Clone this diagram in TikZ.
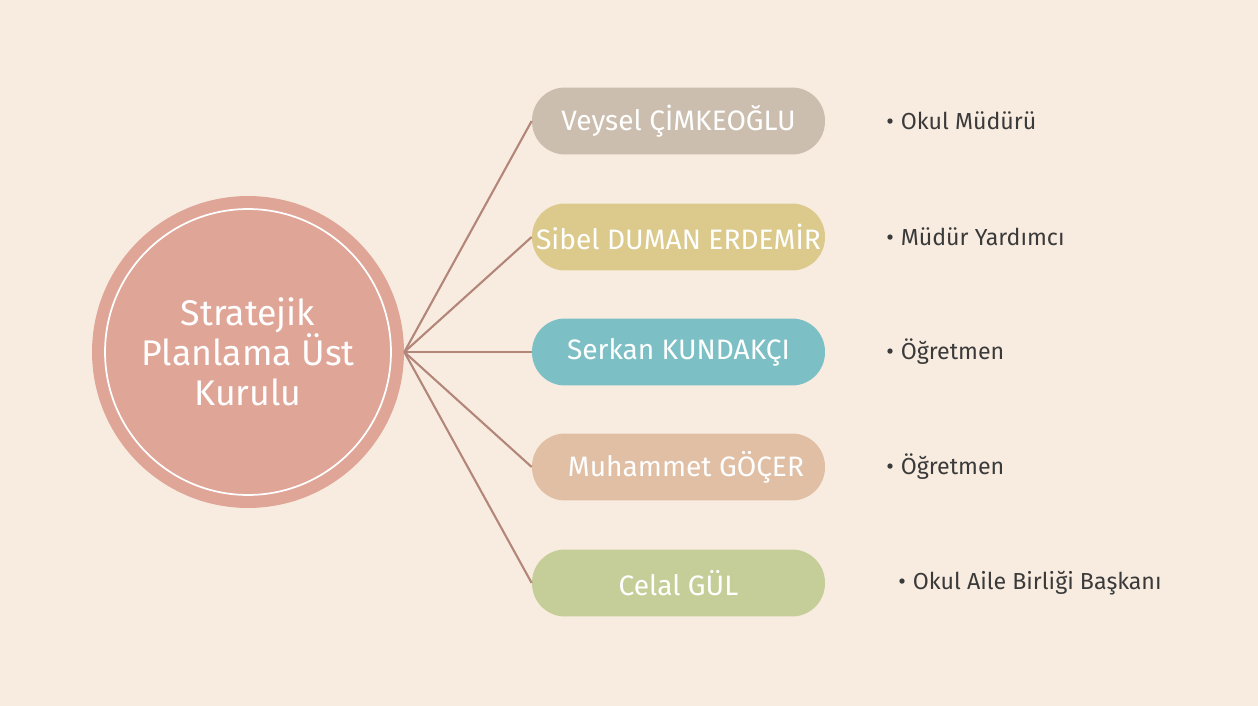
\documentclass[tikz,border=0pt]{standalone}
\usepackage{fontspec}
\setmainfont{Fira Sans}
\usepackage{tikz}

\definecolor{bgcream}{HTML}{F8ECE0}
\definecolor{kurulpink}{HTML}{DFA597}
\definecolor{linkbrown}{HTML}{B4867A}
\definecolor{pillA}{HTML}{CBBEAE}
\definecolor{pillB}{HTML}{DCCA8D}
\definecolor{pillC}{HTML}{7CC0C6}
\definecolor{pillD}{HTML}{E0BFA5}
\definecolor{pillE}{HTML}{C5CE98}
\definecolor{roletext}{HTML}{3A3A3A}

\begin{document}
\begin{tikzpicture}[x=0.02cm,y=-0.02cm]
 % Diagram style
\tikzset{
    pill/.style={rounded corners=0.66cm, minimum width=5.86cm, minimum height=1.34cm,
        inner sep=0pt, text=white, font=\fontsize{16}{19}\selectfont},
    role/.style={right, inner sep=0pt, text=roletext, font=\fontsize{13.2}{16}\selectfont},
    link/.style={draw=linkbrown, line width=1.2pt}
}
\fill[bgcream] (0,0) rectangle (1258,706);
\useasboundingbox (0,0) rectangle (1258,706);

% Main circle
\node[circle, fill=kurulpink, minimum size=6.24cm, inner sep=0pt] (SPUK) at (248,352){};
\node[circle, draw=white, line width=1pt, minimum size=5.72cm, inner sep=0pt,
    text=white, align=center, font=\fontsize{20.3}{22.8}\selectfont] (SPUK-IN) at (248,352)
    {Stratejik\\Planlama Üst\\Kurulu};

% Members
\node[pill, fill=pillA] (VC) at (678.5,121){Veysel ÇİMKEOĞLU};
\node[pill, fill=pillB] (SDE) at (678.5,237){Sibel DUMAN ERDEMİR};
\node[pill, fill=pillC] (SK) at (678.5,352){Serkan KUNDAKÇI};
\node[pill, fill=pillD] (MG) at (678.5,467){\hspace{0.3cm}Muhammet GÖÇER};
\node[pill, fill=pillE] (CG) at (678.5,583){Celal GÜL};

% Roles
\node[role](VC-R) at (886,121){\textbullet\hspace{0.3em}Okul Müdürü};
\node[role](SDE-R) at (886,237){\textbullet\hspace{0.3em}Müdür Yardımcı};
\node[role](SK-R) at (886,352){\textbullet\hspace{0.3em}Öğretmen};
\node[role](MG-R) at (886,467){\textbullet\hspace{0.3em}Öğretmen};
\node[role](CG-R) at (898,583){\textbullet\hspace{0.3em}Okul Aile Birliği Başkanı};

\draw[link] (SPUK.east) -- (VC.west);
\draw[link] (SPUK.east) -- (SDE.west);
\draw[link] (SPUK.east) -- (SK.west);
\draw[link] (SPUK.east) -- (MG.west);
\draw[link] (SPUK.east) -- (CG.west);
\end{tikzpicture}
\end{document}
